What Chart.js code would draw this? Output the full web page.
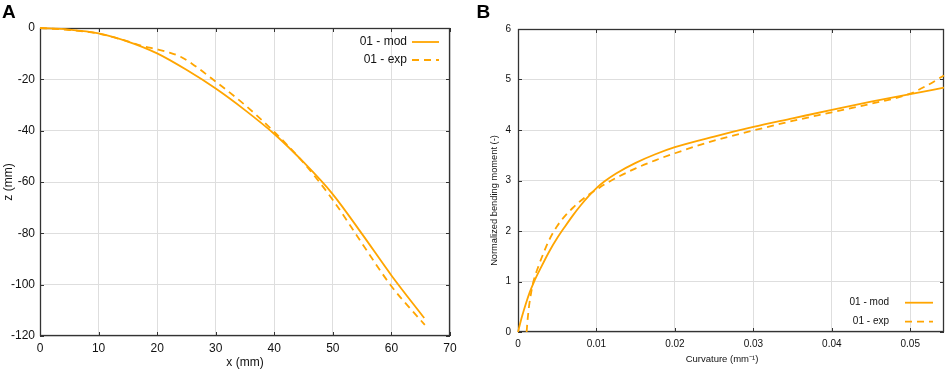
<!DOCTYPE html>
<html>
<head>
<meta charset="utf-8">
<script src="https://cdn.jsdelivr.net/npm/chart.js@4.4.1/dist/chart.umd.min.js"></script>
<style>
  html,body{margin:0;padding:0;background:#fff;}
  #wrap{position:relative;width:948px;height:371px;overflow:hidden;}
  canvas{position:absolute;top:0;}
</style>
</head>
<body>
<div id="wrap">
  <canvas id="cA" width="474" height="371" style="left:0px"></canvas>
  <canvas id="cB" width="474" height="371" style="left:474px"></canvas>
</div>
<script>
// ---------- Panel A data: deflection shape ----------
const seriesLabels = ['01 - mod', '01 - exp'];
const xModA = [0, 5, 10, 15, 20, 25, 30, 35, 40, 45, 50, 55, 60, 65.6];
const zModA = [0, -0.6, -2.1, -5.3, -9.9, -16.3, -23.6, -32.0, -41.3, -52.3, -64.8, -80.3, -96.4, -113.0];
const xExpA = [0, 5, 10, 15, 17.5, 20, 22, 24, 26, 30, 35, 40, 45, 50, 55, 60, 65.7];
const zExpA = [0, -0.8, -2.2, -5.2, -7.0, -8.3, -9.5, -11.2, -14.0, -20.9, -30.0, -40.5, -52.5, -67.0, -84.0, -100.6, -115.7];
const xTicksA = [0, 10, 20, 30, 40, 50, 60, 70];
const zTicksA = [0, -20, -40, -60, -80, -100, -120];

// ---------- Panel B data: moment-curvature ----------
const kModB = [0, 0.0005, 0.001, 0.0015, 0.002, 0.003, 0.004, 0.005, 0.006, 0.007, 0.008, 0.009, 0.01, 0.011, 0.0125, 0.015, 0.0175, 0.02, 0.025, 0.03, 0.035, 0.04, 0.045, 0.05, 0.0543];
const mModB = [0, 0.30, 0.56, 0.79, 0.98, 1.30, 1.60, 1.86, 2.09, 2.31, 2.51, 2.69, 2.85, 2.98, 3.14, 3.35, 3.52, 3.66, 3.87, 4.06, 4.23, 4.40, 4.56, 4.71, 4.84];
const kExpB = [0.0011, 0.0012, 0.0014, 0.0017, 0.002, 0.0026, 0.0033, 0.004, 0.005, 0.006, 0.007, 0.008, 0.009, 0.01, 0.011, 0.0125, 0.015, 0.0175, 0.02, 0.025, 0.03, 0.035, 0.04, 0.045, 0.05, 0.052, 0.0543];
const mExpB = [0, 0.2, 0.5, 0.8, 1.02, 1.3, 1.58, 1.83, 2.1, 2.3, 2.46, 2.6, 2.72, 2.82, 2.92, 3.05, 3.24, 3.4, 3.54, 3.79, 3.99, 4.18, 4.35, 4.52, 4.72, 4.87, 5.08];
const kTicksB = [0, 0.01, 0.02, 0.03, 0.04, 0.05];
const mTicksB = [0, 1, 2, 3, 4, 5, 6];

const ORANGE = '#ffa500';
const FONT = "'Liberation Sans', Arial, Helvetica, sans-serif";

function pts(xs, ys){ return xs.map((x,i)=>({x:x, y:ys[i]})); }

const framePlugin = {
  id: 'frame',
  beforeDraw(chart, args, o){
    const s = chart.scales.y;
    if (o.yTitleShift && !s._shiftPatched){
      const orig = s.drawTitle.bind(s);
      s.drawTitle = function(){
        this.top += o.yTitleShift; this.bottom += o.yTitleShift;
        orig();
        this.top -= o.yTitleShift; this.bottom -= o.yTitleShift;
      };
      s._shiftPatched = true;
    }
    const sx = chart.scales.x;
    if (o.xTitleShift && !sx._shiftPatched){
      const origx = sx.drawTitle.bind(sx);
      sx.drawTitle = function(){
        this.left += o.xTitleShift; this.right += o.xTitleShift;
        origx();
        this.left -= o.xTitleShift; this.right -= o.xTitleShift;
      };
      sx._shiftPatched = true;
    }
  },
  beforeDatasetsDraw(chart, args, o){
    const ctx = chart.ctx;
    const {left, right, top, bottom} = chart.chartArea;
    const sx = chart.scales.x, sy = chart.scales.y;
    ctx.save();
    ctx.strokeStyle = '#333';
    ctx.lineWidth = 1;
    ctx.beginPath();
    sx.ticks.forEach(t=>{
      const p = Math.round(sx.getPixelForValue(t.value)) + 0.5;
      ctx.moveTo(p, bottom); ctx.lineTo(p, bottom - 4);
      ctx.moveTo(p, top); ctx.lineTo(p, top + 4);
    });
    sy.ticks.forEach(t=>{
      const p = Math.round(sy.getPixelForValue(t.value)) + 0.5;
      ctx.moveTo(left, p); ctx.lineTo(left + 4, p);
      ctx.moveTo(right, p); ctx.lineTo(right - 4, p);
    });
    ctx.stroke();
    ctx.lineWidth = 1.3;
    ctx.strokeRect(Math.round(left)+0.5, Math.round(top)+0.5, Math.round(right-left)-1, Math.round(bottom-top)-1);
    ctx.restore();
  },
  afterDatasetsDraw(chart, args, o){
    const ctx = chart.ctx;
    ctx.save();
    ctx.font = o.legendFont + 'px ' + FONT;
    ctx.textAlign = 'right';
    ctx.textBaseline = 'middle';
    chart.data.datasets.forEach((ds, i)=>{
      const y = o.legendY[i];
      ctx.fillStyle = '#111';
      ctx.fillText(ds.label, o.legendTextX, y);
      ctx.strokeStyle = ds.borderColor;
      ctx.lineWidth = ds.borderWidth;
      ctx.setLineDash(ds.borderDash || []);
      ctx.beginPath();
      ctx.moveTo(o.legendLine[0], y); ctx.lineTo(o.legendLine[1], y);
      ctx.stroke();
      ctx.setLineDash([]);
    });
    ctx.fillStyle = '#000';
    ctx.font = 'bold 19px ' + FONT;
    ctx.textAlign = 'left';
    ctx.textBaseline = 'alphabetic';
    ctx.fillText(o.letter, o.letterX, 17.5);
    ctx.restore();
  }
};

function makeChart(id, cfg){
  return new Chart(document.getElementById(id), {
    type: 'scatter',
    data: {
      datasets: [
        {label: seriesLabels[0], data: cfg.mod, showLine: true, borderColor: ORANGE, backgroundColor: ORANGE,
         borderWidth: 1.8, pointRadius: 0, cubicInterpolationMode: 'monotone', fill: false, clip: 3},
        {label: seriesLabels[1], data: cfg.exp, showLine: true, borderColor: ORANGE, backgroundColor: ORANGE,
         borderWidth: 1.8, borderDash: [7,5], pointRadius: 0, cubicInterpolationMode: 'monotone', fill: false, clip: 3}
      ]
    },
    options: {
      responsive: false,
      animation: false,
      devicePixelRatio: 1,
      layout: {padding: {left: 0, right: cfg.padRight, top: cfg.padTop, bottom: 0}},
      plugins: {
        legend: {display: false},
        tooltip: {enabled: false},
        frame: cfg.frame
      },
      scales: {
        x: {
          type: 'linear', min: cfg.xMin, max: cfg.xMax,
          afterBuildTicks: s => { s.ticks = cfg.xTicks.map(v=>({value:v})); },
          afterFit: s => { s.height = cfg.xAxisH; },
          grid: {color: '#dedede', lineWidth: 1, drawTicks: false},
          border: {display: false},
          ticks: {font: {family: FONT, size: cfg.tickFont}, color: '#111', padding: cfg.xTickPad, maxRotation: 0,
                  callback: cfg.xFmt},
          title: {display: true, text: cfg.xTitle, font: {family: FONT, size: cfg.titleFont}, color: '#111',
                  padding: {top: 0, bottom: cfg.xTitlePad}}
        },
        y: {
          type: 'linear', min: cfg.yMin, max: cfg.yMax,
          afterBuildTicks: s => { s.ticks = cfg.yTicks.map(v=>({value:v})); },
          afterFit: s => { s.width = cfg.yAxisW; },
          grid: {color: '#dedede', lineWidth: 1, drawTicks: false},
          border: {display: false},
          ticks: {font: {family: FONT, size: cfg.tickFont}, color: '#111', padding: cfg.yTickPad,
                  callback: v => String(v)},
          title: {display: true, text: cfg.yTitle, font: {family: FONT, size: cfg.yTitleFont}, color: '#111',
                  padding: {top: cfg.yTitlePad, bottom: 0}}
        }
      }
    },
    plugins: [framePlugin]
  });
}

makeChart('cA', {
  mod: pts(xModA, zModA), exp: pts(xExpA, zExpA),
  xMin: 0, xMax: 70, yMin: -120, yMax: 0,
  xTicks: xTicksA, yTicks: zTicksA,
  xFmt: v => String(v),
  padRight: 24, padTop: 28, xAxisH: 35, yAxisW: 40,
  tickFont: 12, titleFont: 12, yTitleFont: 12,
  xTickPad: 5, yTickPad: 5, xTitlePad: 1, yTitlePad: 1,
  xTitle: 'x (mm)', yTitle: 'z (mm)',
  frame: {letter: 'A', letterX: 2, legendFont: 12, legendTextX: 407, legendY: [42, 60], legendLine: [412, 439]}
});

makeChart('cB', {
  mod: pts(kModB, mModB), exp: pts(kExpB, mExpB),
  xMin: 0, xMax: 0.0543, yMin: 0, yMax: 6,
  xTicks: kTicksB, yTicks: mTicksB,
  xFmt: v => v === 0 ? '0' : v.toFixed(2),
  padRight: 4, padTop: 29, xAxisH: 39, yAxisW: 44,
  tickFont: 10, titleFont: 9.5, yTitleFont: 9.3,
  xTickPad: 6, yTickPad: 7, xTitlePad: 6, yTitlePad: 15,
  xTitle: 'Curvature (mm\u207B\u00B9)', yTitle: 'Normalized bending moment (-)',
  frame: {letter: 'B', letterX: 2.5, legendFont: 10, legendTextX: 415, legendY: [302.7, 321.7], legendLine: [431, 459],
          yTitleShift: 20, xTitleShift: -9}
});
</script>
</body>
</html>
